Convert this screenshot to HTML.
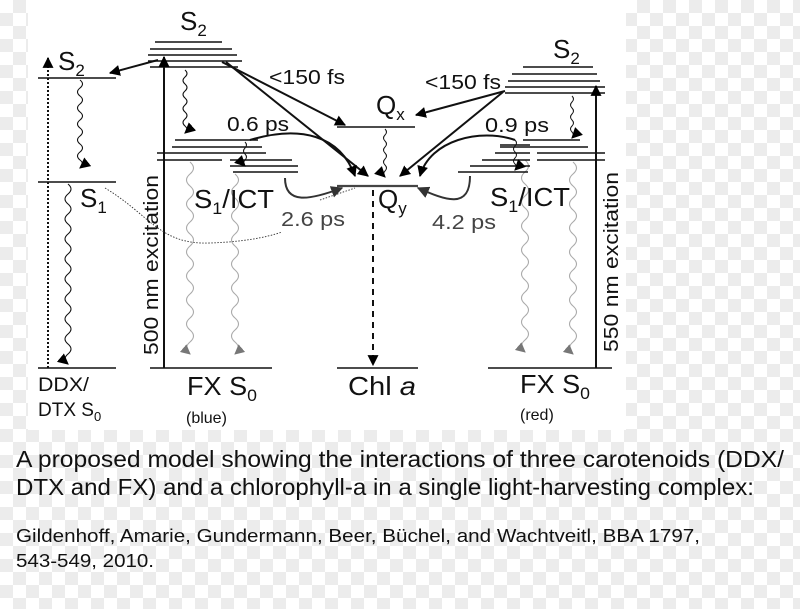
<!DOCTYPE html>
<html><head><meta charset="utf-8"><style>
html,body{margin:0;padding:0;width:800px;height:609px;overflow:hidden}
body{background-color:#fff;background-image:repeating-conic-gradient(#ececec 0 25%,#fff 0 50%);background-size:26px 26px;font-family:"Liberation Sans",sans-serif}
.panel{position:absolute;left:28px;top:0;width:598px;height:430px;background:#fff}
svg{position:absolute;left:0;top:0}
</style></head><body>
<div class="panel"></div>
<svg width="800" height="609" viewBox="0 0 800 609" font-family="Liberation Sans, sans-serif">
<defs>
<marker id="a" viewBox="0 0 10 10" refX="9" refY="5" markerUnits="userSpaceOnUse" markerWidth="11" markerHeight="11" orient="auto"><path d="M0,0L10,5L0,10z" fill="#000"/></marker>
<marker id="g" viewBox="0 0 10 10" refX="9" refY="5" markerUnits="userSpaceOnUse" markerWidth="10" markerHeight="10" orient="auto"><path d="M0,0L10,5L0,10z" fill="#777"/></marker>
<marker id="d" viewBox="0 0 10 10" refX="9" refY="5" markerUnits="userSpaceOnUse" markerWidth="12" markerHeight="12" orient="auto"><path d="M0,0L10,5L0,10z" fill="#333"/></marker>
</defs>
<g stroke="#111" stroke-width="1.6" fill="none">
<line x1="38" y1="78" x2="116" y2="78"/><line x1="38" y1="182" x2="116" y2="182"/><line x1="38" y1="368" x2="116" y2="368"/>
<line x1="48" y1="368" x2="48" y2="58" stroke-width="2" stroke-dasharray="2,2" marker-end="url(#a)"/>
<path d="M80,80 q5,4 0,8 q-5,4 0,8 q5,4 0,8 q-5,4 0,8 q5,4 0,8 q-5,4 0,8 q5,4 0,8 q-5,4 0,8 q5,4 0,8 q-5,4 0,8 q5,4 0,8" stroke-width="1.1" marker-end="url(#a)"/>
<path d="M68,184 q6,5 0,10 q-6,5 0,10 q6,5 0,10 q-6,5 0,10 q6,5 0,10 q-6,5 0,10 q6,5 0,10 q-6,5 0,10 q6,5 0,10 q-6,5 0,10 q6,5 0,10 q-6,5 0,10 q6,5 0,10 q-6,5 0,10 q6,5 0,10 q-6,5 0,10 q6,5 0,10 q-6,5 0,10" stroke-width="1.1" marker-end="url(#a)"/>
<line x1="155" y1="42" x2="222" y2="42"/><line x1="150" y1="49" x2="232" y2="49"/><line x1="148" y1="55" x2="237" y2="55"/><line x1="148" y1="61" x2="242" y2="61"/><line x1="150" y1="67" x2="238" y2="67"/>
<line x1="158" y1="60" x2="110" y2="73" stroke-width="2" marker-end="url(#a)"/>
<line x1="164" y1="368" x2="164" y2="57" stroke-width="2" marker-end="url(#a)"/>
<path d="M185,70 q4,3.5 0,7 q-4,3.5 0,7 q4,3.5 0,7 q-4,3.5 0,7 q4,3.5 0,7 q-4,3.5 0,7 q4,3.5 0,7 q-4,3.5 0,7 q4,3.5 0,7" stroke-width="1.1" marker-end="url(#a)"/>
<line x1="175" y1="140" x2="258" y2="140"/><line x1="172" y1="147" x2="262" y2="147"/><line x1="157" y1="153" x2="266" y2="153"/><line x1="157" y1="160" x2="222" y2="160"/>
<line x1="230" y1="160" x2="292" y2="160"/><line x1="230" y1="166" x2="298" y2="166"/><line x1="233" y1="172" x2="298" y2="172"/>
<path d="M245,142 q3,3 0,6 q-3,3 0,6 q3,3 0,6 q-3,3 0,6" stroke-width="1" marker-end="url(#a)"/>
<line x1="150" y1="368" x2="272" y2="368"/>
<line x1="222" y1="62" x2="345" y2="125" stroke-width="2" marker-end="url(#a)"/>
<line x1="226" y1="62" x2="368" y2="176" stroke-width="2" marker-end="url(#a)"/>
<path d="M250,140 C300,125 340,135 355,176" stroke-width="2" marker-end="url(#a)"/>
<path d="M285,178 C285,205 310,200 342,188" stroke="#333" stroke-width="2" marker-end="url(#d)"/>
<path d="M105,188 C150,215 160,245 210,243 C240,242 265,238 282,232" stroke="#333" stroke-width="0.9" stroke-dasharray="1.5,1.5"/>
<line x1="320" y1="200" x2="355" y2="188" stroke="#333" stroke-width="0.9" stroke-dasharray="1.5,1.5"/>
<path d="M190,162 q7,6 0,12 q-7,6 0,12 q7,6 0,12 q-7,6 0,12 q7,6 0,12 q-7,6 0,12 q7,6 0,12 q-7,6 0,12 q7,6 0,12 q-7,6 0,12 q7,6 0,12 q-7,6 0,12 q7,6 0,12 q-7,6 0,12 q7,6 0,12 q-7,6 0,12" stroke="#aaa" stroke-width="1.1" marker-end="url(#g)"/>
<path d="M235,174 q7,6 0,12 q-7,6 0,12 q7,6 0,12 q-7,6 0,12 q7,6 0,12 q-7,6 0,12 q7,6 0,12 q-7,6 0,12 q7,6 0,12 q-7,6 0,12 q7,6 0,12 q-7,6 0,12 q7,6 0,12 q-7,6 0,12 q7,6 0,12" stroke="#aaa" stroke-width="1.1" marker-end="url(#g)"/>
<path d="M525,160 q7,6 0,12 q-7,6 0,12 q7,6 0,12 q-7,6 0,12 q7,6 0,12 q-7,6 0,12 q7,6 0,12 q-7,6 0,12 q7,6 0,12 q-7,6 0,12 q7,6 0,12 q-7,6 0,12 q7,6 0,12 q-7,6 0,12 q7,6 0,12 q-7,6 0,12" stroke="#aaa" stroke-width="1.1" marker-end="url(#g)"/>
<path d="M573,162 q7,6 0,12 q-7,6 0,12 q7,6 0,12 q-7,6 0,12 q7,6 0,12 q-7,6 0,12 q7,6 0,12 q-7,6 0,12 q7,6 0,12 q-7,6 0,12 q7,6 0,12 q-7,6 0,12 q7,6 0,12 q-7,6 0,12 q7,6 0,12 q-7,6 0,12" stroke="#aaa" stroke-width="1.1" marker-end="url(#g)"/>
<line x1="337" y1="127" x2="415" y2="127"/><line x1="337" y1="186" x2="418" y2="186" stroke-width="2.2" stroke="#444"/>
<path d="M385,129 q3,3 0,6 q-3,3 0,6 q3,3 0,6 q-3,3 0,6 q3,3 0,6 q-3,3 0,6 q3,3 0,6 q-3,3 0,6" stroke-width="1" marker-end="url(#a)"/>
<line x1="373" y1="190" x2="373" y2="365" stroke-width="2" stroke-dasharray="6,5" marker-end="url(#a)"/>
<line x1="337" y1="368" x2="418" y2="368"/>
<line x1="523" y1="67" x2="593" y2="67"/><line x1="512" y1="74" x2="597" y2="74"/><line x1="508" y1="81" x2="600" y2="81"/><line x1="505" y1="87" x2="605" y2="87"/><line x1="505" y1="93" x2="605" y2="93"/>
<line x1="596" y1="368" x2="596" y2="86" stroke-width="2" marker-end="url(#a)"/>
<line x1="505" y1="91" x2="416" y2="115" stroke-width="2" marker-end="url(#a)"/>
<line x1="503" y1="92" x2="400" y2="176" stroke-width="2" marker-end="url(#a)"/>
<path d="M572,96 q3,3 0,6 q-3,3 0,6 q3,3 0,6 q-3,3 0,6 q3,3 0,6 q-3,3 0,6 q3,3 0,6" stroke-width="1" marker-end="url(#a)"/>
<line x1="523" y1="140" x2="580" y2="140"/><line x1="500" y1="147" x2="588" y2="147"/><line x1="537" y1="153" x2="605" y2="153"/><line x1="537" y1="160" x2="605" y2="160"/>
<line x1="500" y1="145" x2="530" y2="145"/><line x1="495" y1="153" x2="530" y2="153"/><line x1="482" y1="160" x2="530" y2="160"/><line x1="470" y1="166" x2="530" y2="166"/><line x1="458" y1="172" x2="528" y2="172"/>
<path d="M515,140 q3,3 0,6 q-3,3 0,6 q3,3 0,6 q-3,3 0,6 q3,3 0,6" stroke-width="1" marker-end="url(#a)"/>
<path d="M515,140 C480,128 430,140 420,176" stroke-width="2" marker-end="url(#a)"/>
<path d="M470,176 C470,210 445,200 418,188" stroke="#333" stroke-width="2" marker-end="url(#d)"/>
<line x1="488" y1="368" x2="612" y2="368"/>
</g>
<g fill="#111">
<text x="58" y="70" font-size="26">S<tspan font-size="17" dy="6">2</tspan></text>
<text x="80" y="207" font-size="26">S<tspan font-size="17" dy="6">1</tspan></text>
<text x="180" y="30" font-size="26">S<tspan font-size="17" dy="6">2</tspan></text>
<text x="553" y="58" font-size="26">S<tspan font-size="17" dy="6">2</tspan></text>
<text x="194" y="208" font-size="26" textLength="80" lengthAdjust="spacingAndGlyphs">S<tspan font-size="17" dy="6">1</tspan><tspan dy="-6">/ICT</tspan></text>
<text x="490" y="206" font-size="26" textLength="80" lengthAdjust="spacingAndGlyphs">S<tspan font-size="17" dy="6">1</tspan><tspan dy="-6">/ICT</tspan></text>
<text x="376" y="114" font-size="26">Q<tspan font-size="17" dy="6">x</tspan></text>
<text x="378" y="208" font-size="26">Q<tspan font-size="17" dy="6">y</tspan></text>
<text x="269" y="84" font-size="20" textLength="76" lengthAdjust="spacingAndGlyphs">&lt;150 fs</text>
<text x="425" y="89" font-size="20" textLength="76" lengthAdjust="spacingAndGlyphs">&lt;150 fs</text>
<text x="227" y="131" font-size="20" textLength="62" lengthAdjust="spacingAndGlyphs">0.6 ps</text>
<text x="485" y="132" font-size="20" textLength="64" lengthAdjust="spacingAndGlyphs">0.9 ps</text>
<text x="281" y="226" font-size="20" fill="#444" textLength="64" lengthAdjust="spacingAndGlyphs">2.6 ps</text>
<text x="432" y="229" font-size="20" fill="#444" textLength="64" lengthAdjust="spacingAndGlyphs">4.2 ps</text>
<text transform="translate(158,355) rotate(-90)" font-size="20" textLength="180" lengthAdjust="spacingAndGlyphs">500 nm excitation</text>
<text transform="translate(618,352) rotate(-90)" font-size="20" textLength="180" lengthAdjust="spacingAndGlyphs">550 nm excitation</text>
<text x="38" y="391" font-size="19" textLength="51" lengthAdjust="spacingAndGlyphs">DDX/</text>
<text x="38" y="416" font-size="19">DTX S<tspan font-size="13" dy="5">0</tspan></text>
<text x="187" y="395" font-size="26" textLength="70" lengthAdjust="spacingAndGlyphs">FX S<tspan font-size="17" dy="6">0</tspan></text>
<text x="186" y="423" font-size="16">(blue)</text>
<text x="348" y="395" font-size="26" textLength="68" lengthAdjust="spacingAndGlyphs">Chl <tspan font-style="italic">a</tspan></text>
<text x="520" y="393" font-size="26" textLength="70" lengthAdjust="spacingAndGlyphs">FX S<tspan font-size="17" dy="6">0</tspan></text>
<text x="520" y="420" font-size="16">(red)</text>
<text x="16" y="467" font-size="23" textLength="768" lengthAdjust="spacingAndGlyphs">A proposed model showing the interactions of three carotenoids (DDX/</text>
<text x="16" y="495" font-size="23" textLength="738" lengthAdjust="spacingAndGlyphs">DTX and FX) and a chlorophyll-a in a single light-harvesting complex:</text>
<text x="16" y="542" font-size="18" textLength="684" lengthAdjust="spacingAndGlyphs">Gildenhoff, Amarie, Gundermann, Beer, Büchel, and Wachtveitl, BBA 1797,</text>
<text x="16" y="567" font-size="18" textLength="138" lengthAdjust="spacingAndGlyphs">543-549, 2010.</text>
</g>
</svg>
</body></html>
